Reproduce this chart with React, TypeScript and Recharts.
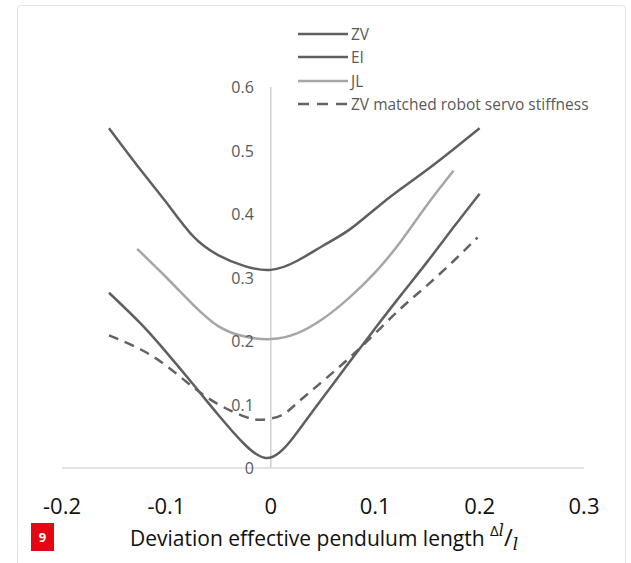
import { LineChart, Line, XAxis, YAxis, ReferenceLine, Legend, Label } from 'recharts'

// x positions and relative overshoot values
const zvX = [-0.155, -0.125, -0.1, -0.075, -0.05, -0.025, 0, 0.025, 0.05, 0.075, 0.1, 0.125, 0.15, 0.175, 0.2]
const zvY = [0.535, 0.47, 0.418, 0.366, 0.335, 0.318, 0.312, 0.326, 0.35, 0.375, 0.408, 0.44, 0.47, 0.502, 0.535]

const eiX = [-0.155, -0.125, -0.1, -0.075, -0.05, -0.025, -0.006, 0.008, 0.02, 0.035, 0.055, 0.075, 0.1, 0.125, 0.15, 0.175, 0.2]
const eiY = [0.276, 0.228, 0.182, 0.133, 0.083, 0.037, 0.016, 0.024, 0.045, 0.078, 0.122, 0.166, 0.22, 0.273, 0.325, 0.379, 0.432]

const jlX = [-0.128, -0.1, -0.075, -0.05, -0.025, 0, 0.025, 0.05, 0.075, 0.1, 0.125, 0.15, 0.175]
const jlY = [0.345, 0.3, 0.258, 0.223, 0.207, 0.203, 0.212, 0.235, 0.268, 0.308, 0.358, 0.415, 0.468]

const zvmX = [-0.155, -0.125, -0.1, -0.075, -0.05, -0.025, -0.008, 0.01, 0.025, 0.05, 0.075, 0.1, 0.125, 0.15, 0.175, 0.198]
const zvmY = [0.209, 0.187, 0.161, 0.128, 0.1, 0.081, 0.076, 0.083, 0.102, 0.137, 0.173, 0.212, 0.252, 0.288, 0.326, 0.363]

const xTicks = [-0.2, -0.1, 0, 0.1, 0.2, 0.3]
const yTicks = [0, 0.1, 0.2, 0.3, 0.4, 0.5, 0.6]

const toPoints = (xs: number[], ys: number[]) => xs.map((x, i) => ({ x, y: ys[i] }))

const series = [
  { name: 'ZV', data: toPoints(zvX, zvY), color: '#5f5f5f', dash: undefined },
  { name: 'EI', data: toPoints(eiX, eiY), color: '#5f5f5f', dash: undefined },
  { name: 'JL', data: toPoints(jlX, jlY), color: '#a6a6a6', dash: undefined },
  { name: 'ZV matched robot servo stiffness', data: toPoints(zvmX, zvmY), color: '#636363', dash: '10 7' }
]

const FONT = '"Open Sans", "Noto Sans", sans-serif'
const X_MIN = -0.2
const X_MAX = 0.3
const PLOT_LEFT = 62
const PLOT_W = 522
// pixel position of the vertical axis (x = 0), where the y labels sit
const ZERO_X = PLOT_LEFT + (PLOT_W * (0 - X_MIN)) / (X_MAX - X_MIN)

const YTick = ({ y, payload }: any) => (
  <text x={ZERO_X - 17} y={y} textAnchor="end" dominantBaseline="central" fill="#595959" fontSize={16} fontFamily={FONT}>
    {String(payload.value)}
  </text>
)

const XTick = ({ x, y, payload }: any) => (
  <text x={x} y={y + 29} textAnchor="middle" dominantBaseline="central" fill="#111" fontSize={22} fontFamily={FONT}>
    {String(payload.value)}
  </text>
)

const XTitle = ({ viewBox }: any) => {
  const { x, y } = viewBox
  return (
    <text x={x + 68} y={y + 78} fill="#111" fontSize={21} fontFamily={FONT}>
      Deviation effective pendulum length{' '}
      <tspan fontSize={15} dy={-10}>Δ</tspan>
      <tspan fontSize={16} fontStyle="italic" fontFamily="'DejaVu Serif', serif">l</tspan>
      <tspan fontSize={24} dy={10}>/</tspan>
      <tspan fontSize={17} fontStyle="italic" fontFamily="'DejaVu Serif', serif" dy={4}>l</tspan>
    </text>
  )
}

const LegendBox = () => (
  <div style={{ fontFamily: FONT, fontSize: 15.5, color: '#595959' }}>
    {series.map(s => (
      <div key={s.name} style={{ display: 'flex', alignItems: 'center', height: 23.5 }}>
        <svg width={52} height={6}>
          <line x1={0} y1={3} x2={50} y2={3} stroke={s.color} strokeWidth={2.5} strokeDasharray={s.dash ? '11 8' : undefined} />
        </svg>
        <span style={{ marginLeft: 1 }}>{s.name}</span>
      </div>
    ))}
  </div>
)

const App = () => {
  return (
    <div style={{ position: 'relative', width: 631, height: 563, background: '#fff', overflow: 'hidden' }}>
      <style>{'body { margin: 0; }'}</style>
      <div style={{
        position: 'absolute',
        left: 17,
        top: 5,
        width: 607,
        height: 620,
        border: '1px solid #dce6f2',
        borderRadius: 4
      }} />
      <LineChart
        width={631}
        height={563}
        margin={{ top: 87, right: 47, bottom: 0, left: 61 }}
        style={{ position: 'absolute', left: 0, top: 0 }}
      >
        <XAxis
          type="number"
          dataKey="x"
          domain={[X_MIN, X_MAX]}
          ticks={xTicks}
          height={95}
          axisLine={{ stroke: '#d9d9d9', strokeWidth: 1.5 }}
          tickLine={false}
          tick={<XTick />}
        >
          <Label content={<XTitle />} />
        </XAxis>
        <YAxis
          type="number"
          dataKey="y"
          domain={[0, 0.6]}
          ticks={yTicks}
          width={1}
          axisLine={false}
          tickLine={false}
          tick={<YTick />}
        />
        <ReferenceLine x={0} stroke="#d0d0d0" strokeWidth={1.5} />
        <Legend
          layout="horizontal"
          verticalAlign="middle"
          align="center"
          content={<LegendBox />}
          wrapperStyle={{ top: 22, left: 298, width: 330, height: 'auto' }}
        />
        {series.map(s => (
          <Line
            key={s.name}
            name={s.name}
            data={s.data}
            dataKey="y"
            type="natural"
            stroke={s.color}
            strokeWidth={2.5}
            strokeDasharray={s.dash}
            dot={false}
            activeDot={false}
            isAnimationActive={false}
          />
        ))}
      </LineChart>
      <div style={{
        position: 'absolute',
        left: 31,
        top: 523,
        width: 23,
        height: 28,
        background: '#e30613',
        color: '#fff',
        fontFamily: FONT,
        fontWeight: 700,
        fontSize: 13,
        display: 'flex',
        alignItems: 'center',
        justifyContent: 'center'
      }}>
        9
      </div>
    </div>
  )
}

export default App
